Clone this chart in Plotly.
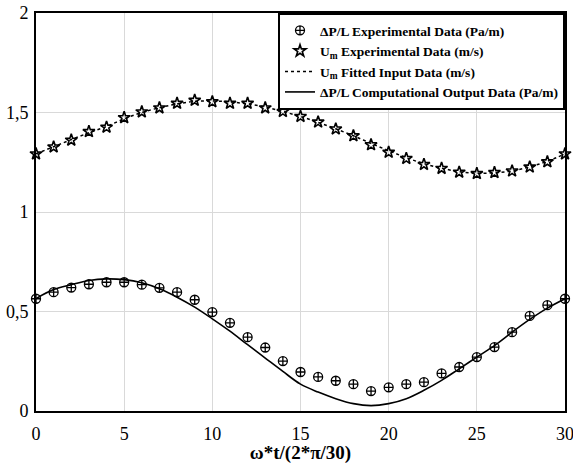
import plotly.graph_objects as go

# x positions (omega*t / (2*pi/30))
x_exp = list(range(0, 31))

# Delta P / L experimental data (Pa/m)
dp_exp = [0.564, 0.597, 0.620, 0.637, 0.647, 0.647, 0.635, 0.619, 0.597, 0.559,
          0.497, 0.443, 0.371, 0.319, 0.251, 0.196, 0.171, 0.152, 0.135, 0.100,
          0.119, 0.135, 0.145, 0.189, 0.221, 0.271, 0.321, 0.396, 0.478, 0.532,
          0.564]

# Um experimental data (m/s)
um_exp = [1.292, 1.327, 1.361, 1.404, 1.426, 1.474, 1.503, 1.523, 1.546, 1.561,
          1.554, 1.546, 1.546, 1.523, 1.505, 1.480, 1.452, 1.417, 1.383, 1.338,
          1.300, 1.269, 1.239, 1.219, 1.200, 1.193, 1.198, 1.206, 1.226, 1.252,
          1.292]

# Um fitted input data (m/s)
um_fit = [1.292, 1.328, 1.364, 1.398, 1.430, 1.468, 1.500, 1.524, 1.543, 1.556,
          1.558, 1.553, 1.543, 1.527, 1.505, 1.480, 1.450, 1.418, 1.383, 1.345,
          1.308, 1.273, 1.243, 1.220, 1.203, 1.195, 1.197, 1.207, 1.227, 1.255,
          1.292]

# Delta P / L computational output data (Pa/m)
dp_comp = [0.565, 0.610, 0.635, 0.656, 0.664, 0.660, 0.644, 0.614, 0.572, 0.522,
           0.463, 0.401, 0.333, 0.266, 0.199, 0.135, 0.095, 0.062, 0.037, 0.027,
           0.037, 0.062, 0.104, 0.154, 0.212, 0.271, 0.329, 0.396, 0.460, 0.517,
           0.564]

y_tickvals = [0, 0.5, 1, 1.5, 2]
y_ticktext = ["0", "0,5", "1", "1,5", "2"]
x_tickvals = [0, 5, 10, 15, 20, 25, 30]

serif = "Liberation Serif"

fig = go.Figure()
fig.add_trace(go.Scatter(
    x=x_exp, y=dp_exp, mode="markers", name="ΔP/L Experimental Data (Pa/m)",
    marker=dict(symbol="circle-cross-open", size=9, color="black", line=dict(width=1.3)),
    cliponaxis=False))
fig.add_trace(go.Scatter(
    x=x_exp, y=um_exp, mode="markers", name="U<sub>m</sub> Experimental Data (m/s)",
    marker=dict(symbol="star-open", size=9, color="black", line=dict(width=1.6)),
    cliponaxis=False))
fig.add_trace(go.Scatter(
    x=x_exp, y=um_fit, mode="lines", name="U<sub>m</sub> Fitted Input Data (m/s)",
    line=dict(color="black", width=1.5, dash="dot", shape="spline")))
fig.add_trace(go.Scatter(
    x=x_exp, y=dp_comp, mode="lines", name="ΔP/L Computational Output Data (Pa/m)",
    line=dict(color="black", width=1.6, shape="spline")))

fig.update_layout(
    width=573, height=464,
    margin=dict(l=36, r=8, t=13, b=53),
    paper_bgcolor="white", plot_bgcolor="white",
    font=dict(family=serif, size=16, color="black"),
    showlegend=True,
    legend=dict(x=1, y=1, xanchor="right", yanchor="top",
                bgcolor="white", bordercolor="black", borderwidth=2,
                font=dict(family=serif, size=13.5, color="black", weight="bold"),
                itemwidth=30, tracegroupgap=0),
    xaxis=dict(range=[0, 30], tickvals=x_tickvals, showgrid=True, gridcolor="#d9d9d9",
               gridwidth=1, zeroline=False, showline=True, linecolor="black", linewidth=2,
               mirror=True, ticks="", automargin=False, ticklabeloverflow="allow",
               ticklabelstandoff=5,
               tickfont=dict(family=serif, size=18),
               title=dict(text="<b>ω*t/(2*π/30)</b>", font=dict(family=serif, size=19), standoff=0)),
    yaxis=dict(range=[0, 2], tickvals=y_tickvals, ticktext=y_ticktext, showgrid=True,
               gridcolor="#d9d9d9", gridwidth=1, zeroline=False, showline=True,
               linecolor="black", linewidth=2, mirror=True, ticks="", automargin=False,
               ticklabeloverflow="allow", ticklabelstandoff=2,
               tickfont=dict(family=serif, size=18)),
)

fig.write_html("out.html")
